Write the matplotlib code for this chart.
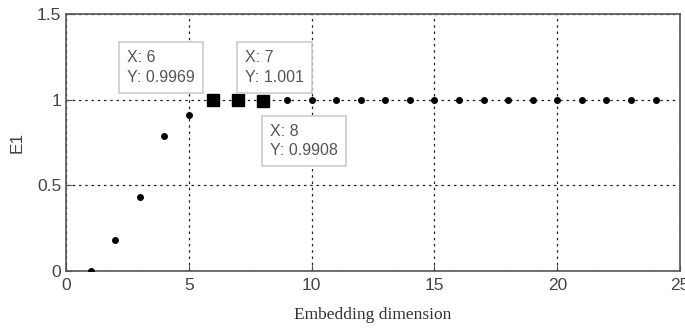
import numpy as np
import matplotlib.pyplot as plt

# Datos
dim = np.arange(1, 25)
E1 = [0.0, 0.18, 0.43, 0.79, 0.91, 0.9969, 1.001, 0.9908,
      0.997, 0.997, 0.998, 0.997, 0.997, 0.998, 0.997, 0.997,
      0.997, 0.998, 0.997, 0.997, 0.997, 0.997, 0.997, 0.997]
tips = [6, 7, 8]  # puntos marcados con datatip

plt.rcParams['font.family'] = ['Liberation Sans', 'DejaVu Sans']

fig = plt.figure(figsize=(6.85, 3.29), dpi=100)
ax = fig.add_axes([0.0964, 0.1763, 0.8965, 0.7811])

ax.plot(dim, E1, "o", color="black", ms=4, zorder=3)
for t in tips:
    i = t - 1
    ax.plot(dim[i], E1[i], "s", color="black", ms=9, zorder=4)

ax.set_xlim(0, 25)
ax.set_ylim(0, 1.5)
ax.set_xticks([0, 5, 10, 15, 20, 25])
ax.set_yticks([0, 0.5, 1, 1.5])
ax.set_yticklabels(["0", "0.5", "1", "1.5"])
ax.grid(True, color="#222222", linestyle=(0, (2, 3)), linewidth=0.9)
ax.tick_params(direction="in", length=4, colors="#555555", labelsize=12.5,
               labelcolor="#444444")
ax.tick_params(axis="x", pad=5)
for sp in ax.spines.values():
    sp.set_color("#555555")
    sp.set_linewidth(1.2)

ax.set_xlabel("Embedding dimension", family="Liberation Serif", fontsize=12.5,
              color="#333333", labelpad=10)
ax.set_ylabel("E1", fontsize=12.5, color="#444444", labelpad=9)

# cuadros de datatip
caja = dict(boxstyle="square,pad=0.5", fc="white", ec="#cccccc", lw=1.2)
ax.text(2.5, 1.29, "X: 6\nY: 0.9969", fontsize=11.5, color="#555555",
        va="top", ha="left", bbox=caja, linespacing=1.4, zorder=5)
ax.text(7.3, 1.29, "X: 7\nY: 1.001", fontsize=11.5, color="#555555",
        va="top", ha="left", bbox=caja, linespacing=1.4, zorder=5)
ax.text(8.3, 0.86, "X: 8\nY: 0.9908", fontsize=11.5, color="#555555",
        va="top", ha="left", bbox=caja, linespacing=1.4, zorder=5)

fig.savefig("out.png", dpi=100)
